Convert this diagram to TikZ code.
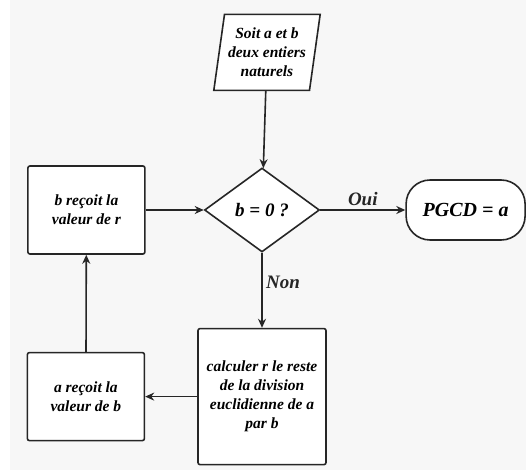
\documentclass[tikz,border=0pt]{standalone}
\usepackage{fontspec}
\setmainfont{Liberation Serif}
\usetikzlibrary{arrows.meta, positioning, shapes.geometric}

\begin{document}
\begin{tikzpicture}[
    x=1pt, y=1pt,
    pbox/.style={
        rectangle, rounded corners=2pt,
        draw=black!85, fill=white,
        minimum height=88pt, minimum width=117pt,
        font=\fontsize{15.5}{19}\selectfont\bfseries\itshape, align=center,
        line width=1.6pt, inner sep=2pt,
    },
    inbox/.style={
        trapezium, trapezium left angle=80, trapezium right angle=100,
        trapezium stretches=true,
        draw=black!85, fill=white,
        minimum height=76pt, minimum width=107pt, inner xsep=0pt,
        font=\fontsize{15.5}{19}\selectfont\bfseries\itshape, align=center,
        line width=1.6pt,
    },
    testbox/.style={
        diamond, draw=black!85, fill=white,
        minimum height=84pt, minimum width=115pt, inner sep=0pt,
        font=\fontsize{19}{21}\selectfont\bfseries\itshape,
        line width=1.6pt,
    },
    endbox/.style={
        rectangle, rounded corners=24pt,
        draw=black!85, fill=white,
        minimum height=60pt, minimum width=119pt,
        font=\fontsize{20}{22}\selectfont\bfseries\itshape,
        line width=1.6pt,
    },
    arr/.style={-{Stealth[length=9pt, width=8pt]}, line width=1.6pt, black!85},
    lbl/.style={font=\fontsize{19}{21}\selectfont\bfseries\itshape},
]

% background
\fill[white] (-262,-260) rectangle (264,210);
\fill[black!3] (-252,-260) rectangle (264,210);

% === main column ===
\node[testbox] (test) at (0, 0) {b = 0 ?};
\node[inbox, above=76pt of test, xshift=5pt] (input) {Soit a et b\\deux entiers\\naturels};
\node[endbox, right=85pt of test] (result) {PGCD = a};
\node[pbox, below=75pt of test, minimum width=128pt, minimum height=136pt] (reste) {calculer r le reste\\de la division\\euclidienne de a\\par b};

% === loop ===
\node[pbox, left=58pt of test] (newb) {b reçoit la\\valeur de r};
\node[pbox, left=52pt of reste] (newa) {a reçoit la\\valeur de b};

% Arrows
\draw[arr] (input) -- (test);
\draw[arr] (test) -- node[lbl, above] {Oui} (result);
\draw[arr] (test) -- node[lbl, right, pos=0.4] {Non} (reste);
\draw[arr] (reste) -- (newa);
\draw[arr] (newa) -- (newb);
\draw[arr] (newb) -- (test);

\end{tikzpicture}
\end{document}
